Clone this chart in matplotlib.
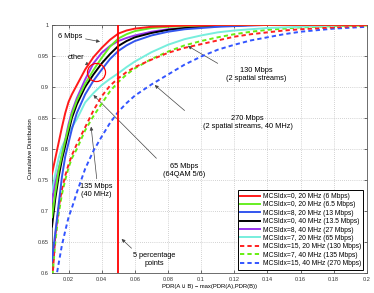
import matplotlib
matplotlib.use("Agg")
import matplotlib.pyplot as plt
import numpy as np

plt.rcParams['font.family'] = ['Liberation Sans', 'DejaVu Sans']

# ---- data ----
x_grid = [0.01, 0.012, 0.014, 0.016, 0.018, 0.02, 0.022, 0.025, 0.03, 0.035, 0.04,
          0.045, 0.05, 0.055, 0.06, 0.07, 0.08, 0.09, 0.1, 0.11, 0.12, 0.13, 0.14,
          0.15, 0.16, 0.18, 0.2]

cdf_6 = [0.76, 0.785, 0.81, 0.835, 0.858, 0.876, 0.888, 0.903, 0.928, 0.948, 0.963,
         0.976, 0.986, 0.991, 0.994, 0.997, 0.998, 0.999, 0.999, 1, 1, 1, 1, 1, 1, 1, 1]
cdf_6_5 = [0.69, 0.73, 0.765, 0.79, 0.813, 0.835, 0.856, 0.878, 0.905, 0.927, 0.947,
           0.965, 0.978, 0.985, 0.99, 0.995, 0.997, 0.998, 0.999, 1, 1, 1, 1, 1, 1, 1, 1]
cdf_13 = [0.62, 0.665, 0.71, 0.755, 0.788, 0.81, 0.832, 0.858, 0.888, 0.91, 0.928,
          0.945, 0.958, 0.967, 0.974, 0.983, 0.989, 0.993, 0.995, 0.997, 0.998, 0.999,
          1, 1, 1, 1, 1]
cdf_13_5 = [0.675, 0.72, 0.755, 0.783, 0.805, 0.828, 0.85, 0.872, 0.9, 0.92, 0.938,
            0.953, 0.966, 0.974, 0.98, 0.987, 0.992, 0.995, 0.997, 0.998, 0.999, 1,
            1, 1, 1, 1, 1]
cdf_27 = [0.715, 0.745, 0.768, 0.79, 0.815, 0.84, 0.86, 0.882, 0.912, 0.938, 0.955,
          0.966, 0.974, 0.979, 0.983, 0.989, 0.993, 0.995, 0.997, 0.998, 0.999, 1,
          1, 1, 1, 1, 1]
cdf_65 = [0.73, 0.76, 0.785, 0.803, 0.815, 0.825, 0.835, 0.848, 0.875, 0.89, 0.903,
          0.913, 0.922, 0.932, 0.941, 0.956, 0.968, 0.977, 0.983, 0.988, 0.991, 0.993,
          0.995, 0.996, 0.997, 0.999, 1.0]
cdf_130 = [0.58, 0.66, 0.705, 0.735, 0.757, 0.775, 0.79, 0.808, 0.835, 0.862, 0.885,
           0.902, 0.914, 0.924, 0.932, 0.944, 0.955, 0.963, 0.969, 0.975, 0.981, 0.985,
           0.988, 0.991, 0.993, 0.996, 0.999]
cdf_135 = [0.585, 0.65, 0.695, 0.727, 0.75, 0.77, 0.785, 0.80, 0.83, 0.853, 0.873,
           0.893, 0.908, 0.92, 0.93, 0.945, 0.957, 0.967, 0.974, 0.98, 0.985, 0.989,
           0.992, 0.994, 0.996, 0.998, 0.999]
cdf_270 = [0.55, 0.585, 0.615, 0.645, 0.668, 0.69, 0.705, 0.73, 0.768, 0.797, 0.82,
           0.842, 0.86, 0.874, 0.886, 0.904, 0.92, 0.936, 0.949, 0.96, 0.968, 0.975,
           0.98, 0.985, 0.989, 0.994, 0.997]

labels = ["MCSIdx=0, 20 MHz (6 Mbps)", "MCSIdx=0, 20 MHz (6.5 Mbps)",
          "MCSIdx=8, 20 MHz (13 Mbps)", "MCSIdx=0, 40 MHz (13.5 Mbps)",
          "MCSIdx=8, 40 MHz (27 Mbps)", "MCSIdx=7, 20 MHz (65 Mbps)",
          "MCSIdx=15, 20 MHz (130 Mbps)", "MCSIdx=7, 40 MHz (135 Mbps)",
          "MCSIdx=15, 40 MHz (270 Mbps)"]
series = [cdf_6, cdf_6_5, cdf_13, cdf_13_5, cdf_27, cdf_65, cdf_130, cdf_135, cdf_270]
colors = ['#ff1a1a', '#66ee22', '#3355ee', '#000000', '#9933ee', '#77eedd',
          '#ff2020', '#66ee11', '#3355ff']
styles = ['-', '-', '-', '-', '-', '-', '--', '--', '--']

x_ticks = [0.02, 0.04, 0.06, 0.08, 0.1, 0.12, 0.14, 0.16, 0.18, 0.2]
y_ticks = [0.6, 0.65, 0.7, 0.75, 0.8, 0.85, 0.9, 0.95, 1.0]
y_ticklabels = ["0.6", "0.65", "0.7", "0.75", "0.8", "0.85", "0.9", "0.95", "1"]

# ---- figure ----
fig = plt.figure(figsize=(3.74, 2.93), dpi=100)
ax = fig.add_axes([0.139, 0.068, 0.842, 0.847])

draw_order = [8, 7, 6, 5, 2, 3, 1, 4, 0]
handles = {}
for i in draw_order:
    ls = styles[i]
    kw = dict(dashes=(2.2, 1.6)) if ls == '--' else {}
    h, = ax.plot(x_grid, series[i], ls, color=colors[i], lw=1.4, label=labels[i],
                 zorder=3 + (9 - i) * 0.01, **kw)
    handles[i] = h

ax.axvline(0.05, color='#ff0000', lw=1.3, zorder=4)

ax.set_xlim(0.01, 0.2)
ax.set_ylim(0.6, 1.0)
ax.set_xticks(x_ticks)
ax.set_xticklabels([f"{v:g}" for v in x_ticks])
ax.set_yticks(y_ticks)
ax.set_yticklabels(y_ticklabels)
ax.tick_params(direction='in', length=2.5, width=0.5, labelsize=4.1, pad=2.5,
               top=True, right=True, colors='#333333')
ax.grid(True, linestyle=(0, (1, 2)), color='#aaaaaa', lw=0.5)
for s in ax.spines.values():
    s.set_color('#555555')
    s.set_linewidth(0.6)

ax.set_xlabel("PDR(A \u222a B) \u2212 max(PDR(A),PDR(B))", fontsize=4.2, labelpad=1.5)
ax.set_ylabel("Cumulative Distribution", fontsize=4.2, labelpad=3)

ann_fs = 5.3
ap = dict(arrowstyle='-|>', color='#444444', lw=0.5, mutation_scale=5, shrinkA=0, shrinkB=0)

ax.annotate("6 Mbps", xy=(0.039, 0.973), xytext=(0.0212, 0.982), fontsize=ann_fs,
            ha='center', va='center', arrowprops=ap)
ax.annotate("other", xy=(0.0325, 0.935), xytext=(0.0245, 0.947), fontsize=ann_fs,
            ha='center', va='center', arrowprops=ap)
ax.plot([0.0364], [0.924], 'o', mfc='none', mec='#ff0000', ms=13, mew=0.9, zorder=5)
ax.text(0.133, 0.92, "130 Mbps\n(2 spatial streams)", fontsize=ann_fs,
        ha='center', va='center')
ax.annotate("", xy=(0.092, 0.966), xytext=(0.11, 0.938), arrowprops=ap)
ax.text(0.128, 0.842, "270 Mbps\n(2 spatial streams, 40 MHz)", fontsize=ann_fs,
        ha='center', va='center')
ax.annotate("", xy=(0.072, 0.903), xytext=(0.090, 0.862), arrowprops=ap)
ax.text(0.09, 0.766, "65 Mbps\n(64QAM 5/6)", fontsize=ann_fs, ha='center', va='center')
ax.annotate("", xy=(0.035, 0.887), xytext=(0.073, 0.785), arrowprops=ap)
ax.text(0.037, 0.733, "135 Mbps\n(40 MHz)", fontsize=ann_fs, ha='center', va='center')
ax.annotate("", xy=(0.0336, 0.836), xytext=(0.037, 0.752), arrowprops=ap)
ax.text(0.0715, 0.622, "5 percentage\npoints", fontsize=ann_fs, ha='center', va='center')
ax.annotate("", xy=(0.052, 0.655), xytext=(0.058, 0.64), arrowprops=ap)

leg = ax.legend([handles[i] for i in range(9)], labels, loc='lower right',
                fontsize=4.9, frameon=True, fancybox=False, edgecolor='#000000',
                framealpha=1, handlelength=2.9, handletextpad=0.35,
                labelspacing=0.2, borderaxespad=0.5, borderpad=0.4)
leg.get_frame().set_linewidth(0.7)
leg.set_zorder(10)

fig.savefig("out.png", dpi=100)
